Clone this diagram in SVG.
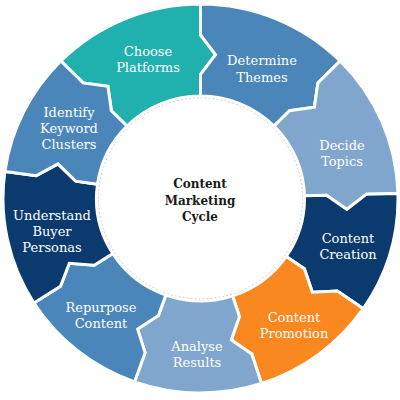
<svg xmlns="http://www.w3.org/2000/svg" width="400" height="400" viewBox="0 0 400 400">
<style>
.seg{stroke:#ffffff;stroke-width:3;stroke-linejoin:miter}
.teal{fill:#20b0ad}
.mid{fill:#4a86ba}
.light{fill:#80a6cd}
.navy{fill:#0b3a6e}
.orange{fill:#f8881f}
.lbl{font-family:"DejaVu Serif","Liberation Serif",serif;font-size:13px;fill:#ffffff;text-anchor:middle}
.ctr{font-family:"DejaVu Serif","Liberation Serif",serif;font-size:12px;font-weight:bold;fill:#1a1a1a;text-anchor:middle}
</style>
<rect width="400" height="400" fill="#ffffff"/>
<g transform="translate(200.5,198.5) scale(1,0.985)">
<g id="choose-platforms"><path class="seg teal" d="M -139.65,-139.65 A 197.5 197.5 0 0 1 0,-197.5 L 0,-166 L 15,-146 L 0,-126 L 0,-104 A 104 104 0 0 0 -73.54,-73.54 L -89.10,-89.10 L -92.63,-113.85 L -117.38,-117.38 Z"/></g>
<g id="determine-themes"><path class="seg mid" d="M 0,-197.5 A 197.5 197.5 0 0 1 139.65,-139.65 L 117.38,-117.38 L 113.85,-92.63 L 89.10,-89.10 L 73.54,-73.54 A 104 104 0 0 0 0,-104 L 0,-126 L 15,-146 L 0,-166 Z"/></g>
<g id="decide-topics"><path class="seg light" d="M 139.65,-139.65 A 197.5 197.5 0 0 1 197.43,-5.17 L 165.94,-4.35 L 146.34,11.17 L 125.96,-3.30 L 103.96,-2.72 A 104 104 0 0 0 73.54,-73.54 L 89.10,-89.10 L 113.85,-92.63 L 117.38,-117.38 Z"/></g>
<g id="content-creation"><path class="seg navy" d="M 197.43,-5.17 A 197.5 197.5 0 0 1 162.77,111.87 L 136.81,94.02 L 111.82,95.06 L 103.84,71.37 L 85.71,58.91 A 104 104 0 0 0 103.96,-2.72 L 125.96,-3.30 L 146.34,11.17 L 165.94,-4.35 Z"/></g>
<g id="content-promotion"><path class="seg orange" d="M 162.77,111.87 A 197.5 197.5 0 0 1 61.03,187.83 L 51.30,157.88 L 30.85,143.49 L 38.94,119.83 L 32.14,98.91 A 104 104 0 0 0 85.71,58.91 L 103.84,71.37 L 111.82,95.06 L 136.81,94.02 Z"/></g>
<g id="analyse-results"><path class="seg light" d="M 61.03,187.83 A 197.5 197.5 0 0 1 -65.93,186.17 L -55.41,156.48 L -62.88,132.62 L -42.06,118.77 L -34.72,98.03 A 104 104 0 0 0 32.14,98.91 L 38.94,119.83 L 30.85,143.49 L 51.30,157.88 Z"/></g>
<g id="repurpose-content"><path class="seg mid" d="M -65.93,186.17 A 197.5 197.5 0 0 1 -166.57,106.12 L -140.00,89.19 L -131.19,65.80 L -106.27,67.70 L -87.71,55.88 A 104 104 0 0 0 -34.72,98.03 L -42.06,118.77 L -62.88,132.62 L -55.41,156.48 Z"/></g>
<g id="understand-buyer-personas"><path class="seg navy" d="M -166.57,106.12 A 197.5 197.5 0 0 1 -195.58,-27.49 L -164.38,-23.10 L -142.49,-35.17 L -124.77,-17.54 L -102.99,-14.47 A 104 104 0 0 0 -87.71,55.88 L -106.27,67.70 L -131.19,65.80 L -140.00,89.19 Z"/></g>
<g id="identify-keyword-clusters"><path class="seg mid" d="M -195.58,-27.49 A 197.5 197.5 0 0 1 -139.65,-139.65 L -117.38,-117.38 L -92.63,-113.85 L -89.10,-89.10 L -73.54,-73.54 A 104 104 0 0 0 -102.99,-14.47 L -124.77,-17.54 L -142.49,-35.17 L -164.38,-23.10 Z"/></g>
<g id="center"><circle cx="0" cy="0" r="102" fill="#ffffff" stroke="#cfcfcf" stroke-width="1" stroke-dasharray="2 2"/></g>
</g>
<g id="labels">
<text class="lbl" x="148" y="56">Choose</text>
<text class="lbl" x="148" y="72">Platforms</text>
<text class="lbl" x="262" y="65">Determine</text>
<text class="lbl" x="262" y="82">Themes</text>
<text class="lbl" x="342" y="150">Decide</text>
<text class="lbl" x="342" y="166">Topics</text>
<text class="lbl" x="348" y="243">Content</text>
<text class="lbl" x="348" y="259">Creation</text>
<text class="lbl" x="294" y="322">Content</text>
<text class="lbl" x="294" y="338">Promotion</text>
<text class="lbl" x="197" y="351">Analyse</text>
<text class="lbl" x="197" y="367">Results</text>
<text class="lbl" x="101" y="312">Repurpose</text>
<text class="lbl" x="101" y="328">Content</text>
<text class="lbl" x="52" y="220">Understand</text>
<text class="lbl" x="52" y="236">Buyer</text>
<text class="lbl" x="52" y="252">Personas</text>
<text class="lbl" x="69" y="117">Identify</text>
<text class="lbl" x="69" y="133">Keyword</text>
<text class="lbl" x="69" y="149">Clusters</text>
<text class="ctr" x="200" y="188">Content</text>
<text class="ctr" x="200" y="205">Marketing</text>
<text class="ctr" x="200" y="221">Cycle</text>
</g>
</svg>
